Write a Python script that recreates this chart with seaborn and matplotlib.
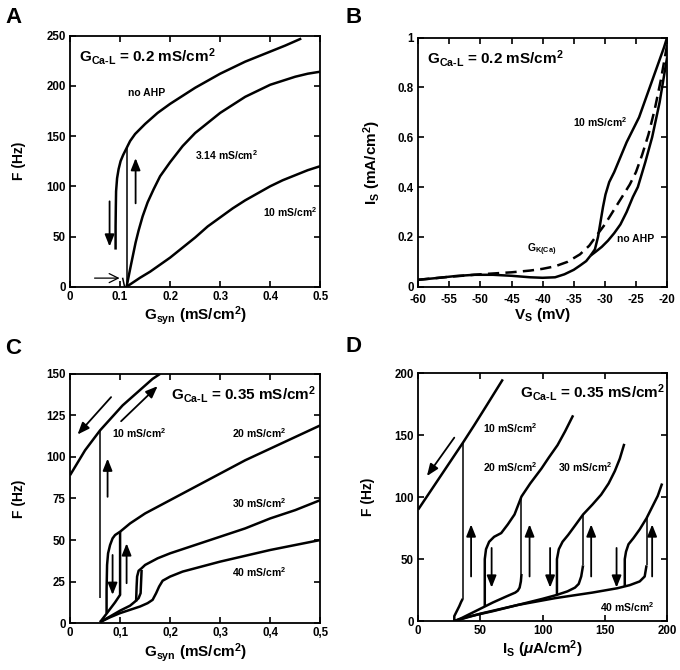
import matplotlib
matplotlib.use('Agg')
import matplotlib.pyplot as plt
import pandas as pd
import seaborn as sns

# ---------------- Panel A data: F vs Gsyn, GCa-L = 0.2 ----------------
A_noahp_x = [0.091, 0.091, 0.0915, 0.092, 0.094, 0.097, 0.101, 0.106, 0.113, 0.12, 0.13, 0.15, 0.175,
             0.2, 0.225, 0.25, 0.275, 0.3, 0.325, 0.35, 0.375, 0.4, 0.43, 0.462]
A_noahp_y = [37, 60, 80, 95, 108, 117, 125, 131, 138, 145, 152, 162, 173,
             182, 190, 198, 205, 212, 218, 224, 229, 234, 240, 247]
A_314_x = [0.113, 0.117, 0.121, 0.126, 0.131, 0.137, 0.145, 0.155, 0.167, 0.18, 0.2, 0.225, 0.25,
           0.275, 0.3, 0.325, 0.35, 0.375, 0.4, 0.425, 0.45, 0.475, 0.5]
A_314_y = [0, 10, 20, 32, 44, 56, 70, 84, 97, 110, 124, 140, 153,
           163, 173, 181, 189, 195, 201, 205, 209, 212, 214]
A_10_x = [0.113, 0.125, 0.14, 0.16, 0.18, 0.2, 0.22, 0.25, 0.275, 0.3, 0.325, 0.35, 0.375, 0.4,
          0.425, 0.45, 0.475, 0.5]
A_10_y = [0, 4, 9, 15, 22, 29, 37, 49, 60, 69, 78, 86, 93, 100, 106, 111, 116, 120]
A_jump_x = [0.113, 0.113]
A_jump_y = [0, 138]
A_foot_x = [0.105, 0.109, 0.113]
A_foot_y = [9, 0, 0]
A_arrows = [((0.079, 85), (0.079, 40)), ((0.131, 83), (0.131, 128))]
A_thin_arrows = [((0.049, 8.6), (0.099, 8.6))]

# ---------------- Panel B data: Is vs Vs ----------------
B_base_x = [-60, -57, -54, -51, -48, -45, -42, -40, -38, -36.5, -35, -34, -33, -32.3]
B_base_y = [0.028, 0.035, 0.043, 0.048, 0.048, 0.044, 0.038, 0.036, 0.038, 0.05, 0.068, 0.085, 0.103, 0.125]
B_10_x = [-32.3, -31.6, -31.1, -30.7, -30.3, -29.9, -29.3, -28.5, -27.5, -26.5, -25.5, -24.5, -23.5,
          -22.5, -21.5, -20.5, -20]
B_10_y = [0.125, 0.15, 0.2, 0.26, 0.32, 0.37, 0.42, 0.46, 0.52, 0.58, 0.63, 0.68, 0.75,
          0.82, 0.89, 0.96, 1.0]
B_noahp_x = [-32.3, -31.5, -30.5, -29.5, -28.5, -27.5, -26.5, -25.5, -24.7, -23.5, -22.4, -21.2, -20]
B_noahp_y = [0.125, 0.14, 0.16, 0.185, 0.215, 0.25, 0.3, 0.36, 0.4, 0.5, 0.6, 0.74, 0.92]
B_gk_x = [-60, -55, -50, -45, -42, -40, -38, -36, -34, -32.5, -31.2, -30, -29, -28, -27, -26, -25,
          -24, -23, -22, -21, -20]
B_gk_y = [0.028, 0.04, 0.05, 0.058, 0.065, 0.072, 0.082, 0.1, 0.13, 0.165, 0.21, 0.25, 0.29, 0.33,
          0.37, 0.41, 0.46, 0.53, 0.61, 0.71, 0.83, 0.97]

# ---------------- Panel C data: F vs Gsyn, GCa-L = 0.35 ----------------
C_10_x = [0, 0.01, 0.02, 0.03, 0.04, 0.05, 0.06, 0.075, 0.09, 0.105, 0.12, 0.135, 0.15, 0.165, 0.18]
C_10_y = [89, 94, 99, 104, 108, 112, 116, 121, 126, 131, 135, 139, 143, 147, 150]
C_10_jump_x = [0.06, 0.06]
C_10_jump_y = [15, 116]
C_20_low_x = [0.06, 0.07, 0.08, 0.09, 0.1, 0.1]
C_20_low_y = [0.6, 4.5, 8.5, 12.5, 17, 55]
C_20_up_x = [0.073, 0.073, 0.074, 0.076, 0.08, 0.085, 0.09, 0.1, 0.12, 0.15, 0.2, 0.25, 0.3, 0.35,
             0.4, 0.45, 0.5]
C_20_up_y = [6, 20, 35, 42, 47, 51, 53, 55, 60, 66, 74, 82, 90, 98, 105, 112, 119]
C_30_low_x = [0.06, 0.08, 0.1, 0.12, 0.13, 0.137, 0.141, 0.142, 0.143]
C_30_low_y = [0.6, 4, 7.5, 10.5, 13, 15, 18, 25, 32]
C_30_up_x = [0.132, 0.133, 0.134, 0.137, 0.143, 0.15, 0.175, 0.2, 0.25, 0.3, 0.35, 0.4, 0.45, 0.5]
C_30_up_y = [13, 22, 28, 31.5, 33, 35, 39, 42, 47, 52, 57, 63, 68, 74]
C_40_x = [0.06, 0.08, 0.1, 0.12, 0.14, 0.155, 0.165, 0.172, 0.178, 0.185, 0.2, 0.225, 0.25, 0.3,
          0.35, 0.4, 0.45, 0.5]
C_40_y = [0.6, 3.5, 6, 8, 10, 12, 14, 18, 22, 25.5, 28, 31, 33, 37, 40.5, 44, 47, 50]
C_arrows = [((0.082, 136), (0.015, 113.5)), ((0.102, 121.5), (0.175, 142.6)),
            ((0.075, 76), (0.075, 99)), ((0.085, 41), (0.085, 17)), ((0.113, 24), (0.113, 48))]

# ---------------- Panel D data: F vs Is ----------------
D_10_up_x = [0, 10, 20, 30, 36, 45, 55, 68]
D_10_up_y = [90, 105, 120, 135, 144, 158, 174, 195]
D_10_low_x = [29, 29, 30, 31.5, 33, 34.5, 35.8]
D_10_low_y = [0, 4, 6, 9, 12, 15.5, 18]
D_20_low_x = [29, 35, 40, 46, 53, 60, 70, 78, 80, 81.5, 82.5, 83]
D_20_low_y = [0, 2.5, 5, 8, 11.5, 15, 19.5, 23, 24.5, 27, 32, 38]
D_20_up_x = [53.5, 53.5, 54.5, 57, 61, 66.7, 72, 77.4, 83, 90, 99, 105, 112, 118, 124.5]
D_20_up_y = [12, 50, 58, 64, 68, 71, 78, 86, 100.5, 111, 123, 132, 142, 153, 166]
D_30_low_x = [29, 40, 60, 80, 100, 111, 120, 126, 129, 131, 132.5]
D_30_low_y = [0, 3.5, 8, 13, 18, 21, 24, 27, 30, 36, 45]
D_30_up_x = [111.5, 111.5, 113, 116, 120.5, 126, 132.5, 140, 147, 153, 158, 162, 165.6]
D_30_up_y = [21, 50, 58, 64, 69.5, 77, 86, 94, 102, 111, 121, 131, 143]
D_40_low_x = [29, 50, 80, 110, 140, 160, 170, 178, 182, 183.5]
D_40_low_y = [0, 6, 13, 18.5, 23, 26.5, 29, 32, 36, 45]
D_40_up_x = [166, 166, 167, 169, 173, 178, 183.5, 189, 192.5, 196]
D_40_up_y = [28, 50, 56, 62, 67, 74, 83, 94, 101, 111]
D_jumps_x = [35.8, 83, 132.5, 183.5]
D_jumps_lo = [18, 38, 45, 45]
D_jumps_hi = [144, 100.5, 86, 83]
D_arrows = [((29, 148), (7, 117)),
            ((42.5, 36), (42.5, 78)), ((59, 59), (59, 27)),
            ((89.5, 36), (89.5, 78)), ((106, 59), (106, 27)),
            ((139, 36), (139, 78)), ((159.4, 59), (159.4, 27)),
            ((188, 36), (188, 78))]

# ---------------- ticks ----------------
A_xticks = [0, 0.1, 0.2, 0.3, 0.4, 0.5]
A_xticklabels = ['0', '0.1', '0.2', '0.3', '0.4', '0.5']
A_yticks = [0, 50, 100, 150, 200, 250]
B_xticks = [-60, -55, -50, -45, -40, -35, -30, -25, -20]
B_xticklabels = ['-60', '-55', '-50', '-45', '-40', '-35', '-30', '-25', '-20']
B_yticks = [0, 0.2, 0.4, 0.6, 0.8, 1.0]
B_yticklabels = ['0', '0.2', '0.4', '0.6', '0.8', '1']
C_xticks = [0, 0.1, 0.2, 0.3, 0.4, 0.5]
C_xticklabels = ['0', '0,1', '0,2', '0,3', '0,4', '0,5']
C_yticks = [0, 25, 50, 75, 100, 125, 150]
D_xticks = [0, 50, 100, 150, 200]
D_yticks = [0, 50, 100, 150, 200]

# ---------------- style ----------------
sns.set_style('ticks')
plt.rcParams['font.family'] = ['Liberation Sans', 'DejaVu Sans']
plt.rcParams['font.weight'] = 'bold'
plt.rcParams['axes.labelweight'] = 'bold'
for k in ['text.color', 'axes.labelcolor', 'xtick.color', 'ytick.color', 'axes.edgecolor']:
    plt.rcParams[k] = 'black'
plt.rcParams['mathtext.fontset'] = 'custom'
plt.rcParams['mathtext.rm'] = 'Liberation Sans:bold'
plt.rcParams['mathtext.it'] = 'Liberation Sans:bold:italic'
plt.rcParams['mathtext.bf'] = 'Liberation Sans:bold'
plt.rcParams['mathtext.sf'] = 'Liberation Sans:bold'
plt.rcParams['mathtext.default'] = 'rm'

fig = plt.figure(figsize=(6.8, 6.7), dpi=100)
axA = fig.add_axes([0.103, 0.572, 0.368, 0.375])
axB = fig.add_axes([0.615, 0.572, 0.366, 0.372])
axC = fig.add_axes([0.103, 0.070, 0.368, 0.372])
axD = fig.add_axes([0.615, 0.073, 0.366, 0.370])

LW = 1.8
JLW = 1.1
LAB_FS = 7.5
TICK_FS = 8.3
TITLE_FS = 11


def curve(ax, x, y, lw=LW, ls='-'):
    df = pd.DataFrame({'x': x, 'y': y})
    sns.lineplot(data=df, x='x', y='y', ax=ax, sort=False, estimator=None,
                 color='black', lw=lw, linestyle=ls, solid_capstyle='butt')


def arrow(ax, tail, head, thin=False):
    if thin:
        style = '->,head_length=0.5,head_width=0.25'
        lw = 0.9
    else:
        style = '-|>,head_length=0.55,head_width=0.22'
        lw = 1.3
    ax.annotate('', xy=head, xytext=tail,
                arrowprops=dict(arrowstyle=style, mutation_scale=13, lw=lw,
                                color='black', shrinkA=0, shrinkB=0))


def style_axes(ax):
    for s in ax.spines.values():
        s.set_linewidth(1.3)
        s.set_color('black')
    ax.tick_params(direction='in', top=True, right=True, length=4, width=1.2,
                   labelsize=TICK_FS, pad=3, colors='black')
    ax.set_xlabel('')
    ax.set_ylabel('')


# Panel A
curve(axA, A_noahp_x, A_noahp_y)
curve(axA, A_314_x, A_314_y)
curve(axA, A_10_x, A_10_y)
curve(axA, A_jump_x, A_jump_y, lw=JLW)
curve(axA, A_foot_x, A_foot_y, lw=JLW)
for t, h in A_arrows:
    arrow(axA, t, h)
for t, h in A_thin_arrows:
    arrow(axA, t, h, thin=True)
style_axes(axA)
axA.set_xlim(0, 0.5)
axA.set_ylim(0, 250)
axA.set_xticks(A_xticks, A_xticklabels)
axA.set_yticks(A_yticks)
axA.set_xlabel(r'G$_{\mathrm{syn}}$ (mS/cm$^{2}$)', fontsize=11, labelpad=1)
axA.set_ylabel('F (Hz)', fontsize=10, labelpad=15)
axA.text(0.034, 0.896, r'G$_{\mathrm{Ca\text{-}L}}$ = 0.2 mS/cm$^{2}$', transform=axA.transAxes,
         fontsize=TITLE_FS, va='baseline', ha='left')
axA.text(0.116, 193, r'no AHP', fontsize=LAB_FS, va='center')
axA.text(0.25, 131, r'3.14 mS/cm$^{2}$', fontsize=LAB_FS, va='center')
axA.text(0.386, 74, r'10 mS/cm$^{2}$', fontsize=LAB_FS, va='center')

# Panel B
curve(axB, B_base_x, B_base_y)
curve(axB, B_10_x, B_10_y)
curve(axB, B_noahp_x, B_noahp_y)
curve(axB, B_gk_x, B_gk_y, ls=(0, (4.5, 2.5)))
style_axes(axB)
axB.tick_params(axis='x', pad=5)
axB.set_xlim(-60, -20)
axB.set_ylim(0, 1)
axB.set_xticks(B_xticks, B_xticklabels)
axB.set_yticks(B_yticks, B_yticklabels)
axB.set_xlabel(r'V$_{\mathrm{S}}$ (mV)', fontsize=11, labelpad=0)
axB.set_ylabel(r'I$_{\mathrm{S}}$ (mA/cm$^{2}$)', fontsize=11, labelpad=11)
axB.text(0.036, 0.896, r'G$_{\mathrm{Ca\text{-}L}}$ = 0.2 mS/cm$^{2}$', transform=axB.transAxes,
         fontsize=TITLE_FS, va='baseline', ha='left')
axB.text(-35.1, 0.66, r'10 mS/cm$^{2}$', fontsize=LAB_FS, va='center')
axB.text(-28.0, 0.19, 'no AHP', fontsize=LAB_FS, va='center')
axB.text(-42.5, 0.15, r'G$_{\mathrm{K(Ca)}}$', fontsize=LAB_FS, va='center')

# Panel C
curve(axC, C_10_x, C_10_y)
curve(axC, C_10_jump_x, C_10_jump_y, lw=JLW)
curve(axC, C_20_low_x, C_20_low_y)
curve(axC, C_20_up_x, C_20_up_y)
curve(axC, C_30_low_x, C_30_low_y)
curve(axC, C_30_up_x, C_30_up_y)
curve(axC, C_40_x, C_40_y)
for t, h in C_arrows:
    arrow(axC, t, h)
style_axes(axC)
axC.set_xlim(0, 0.5)
axC.set_ylim(0, 150)
axC.set_xticks(C_xticks, C_xticklabels)
axC.set_yticks(C_yticks)
axC.set_xlabel(r'G$_{\mathrm{syn}}$ (mS/cm$^{2}$)', fontsize=11, labelpad=1)
axC.set_ylabel('F (Hz)', fontsize=10, labelpad=15)
axC.text(0.985, 0.896, r'G$_{\mathrm{Ca\text{-}L}}$ = 0.35 mS/cm$^{2}$', transform=axC.transAxes,
         fontsize=TITLE_FS, va='baseline', ha='right')
axC.text(0.084, 114.5, r'10 mS/cm$^{2}$', fontsize=LAB_FS, va='center')
axC.text(0.324, 114.5, r'20 mS/cm$^{2}$', fontsize=LAB_FS, va='center')
axC.text(0.324, 72.3, r'30 mS/cm$^{2}$', fontsize=LAB_FS, va='center')
axC.text(0.324, 30.9, r'40 mS/cm$^{2}$', fontsize=LAB_FS, va='center')

# Panel D
curve(axD, D_10_up_x, D_10_up_y)
curve(axD, D_10_low_x, D_10_low_y)
curve(axD, D_20_low_x, D_20_low_y)
curve(axD, D_20_up_x, D_20_up_y)
curve(axD, D_30_low_x, D_30_low_y)
curve(axD, D_30_up_x, D_30_up_y)
curve(axD, D_40_low_x, D_40_low_y)
curve(axD, D_40_up_x, D_40_up_y)
for jx, lo, hi in zip(D_jumps_x, D_jumps_lo, D_jumps_hi):
    curve(axD, [jx, jx], [lo, hi], lw=JLW)
for t, h in D_arrows:
    arrow(axD, t, h)
style_axes(axD)
axD.set_xlim(0, 200)
axD.set_ylim(0, 200)
axD.set_xticks(D_xticks)
axD.set_yticks(D_yticks)
axD.set_xlabel(r'I$_{\mathrm{S}}$ ($\mathit{\mu}$A/cm$^{2}$)', fontsize=11, labelpad=1)
axD.set_ylabel('F (Hz)', fontsize=10, labelpad=14)
axD.text(0.99, 0.90, r'G$_{\mathrm{Ca\text{-}L}}$ = 0.35 mS/cm$^{2}$', transform=axD.transAxes,
         fontsize=TITLE_FS, va='baseline', ha='right')
axD.text(52.4, 156, r'10 mS/cm$^{2}$', fontsize=LAB_FS, va='center')
axD.text(52.4, 124, r'20 mS/cm$^{2}$', fontsize=LAB_FS, va='center')
axD.text(112, 124, r'30 mS/cm$^{2}$', fontsize=LAB_FS, va='center')
axD.text(146, 11.3, r'40 mS/cm$^{2}$', fontsize=LAB_FS, va='center')

# Panel letters
for letter, x, y in [('A', 0.008, 0.990), ('B', 0.508, 0.990), ('C', 0.008, 0.495), ('D', 0.508, 0.498)]:
    fig.text(x, y, letter, fontsize=16, fontweight='bold', va='top', ha='left')

fig.savefig('out.png', dpi=100)
